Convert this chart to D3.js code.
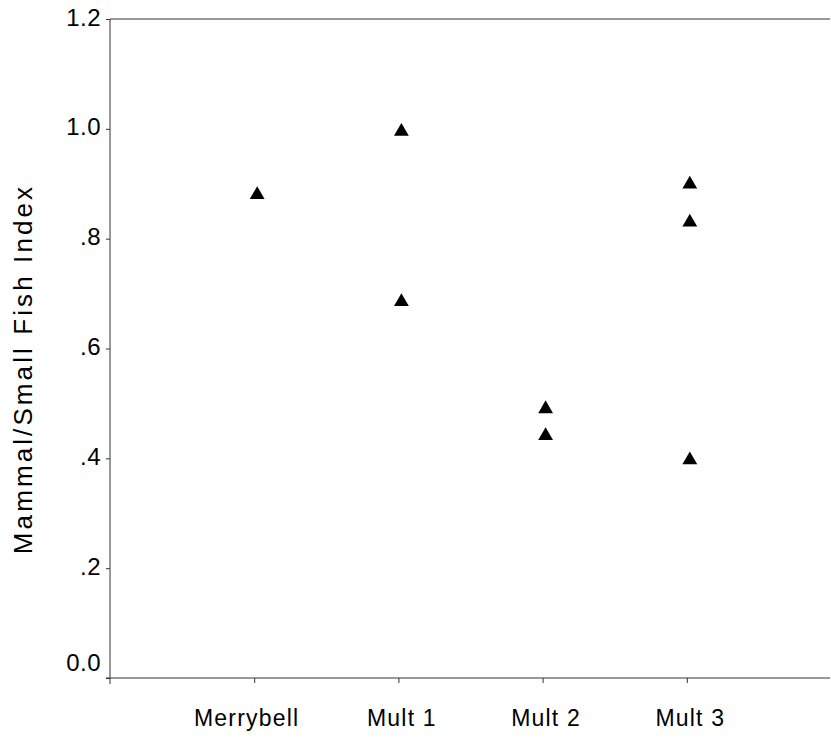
<!DOCTYPE html>
<html>
<head>
<meta charset="utf-8">
<script src="https://cdn.jsdelivr.net/npm/d3@7"></script>
<style>
  body { margin: 0; background: #fff; overflow: hidden; }
  svg { display: block; }
  text { font-family: "Liberation Sans", Arial, Helvetica, sans-serif; fill: #000; }
</style>
</head>
<body>
<svg id="chart" width="831" height="741"></svg>
<script>
var categories = ["Merrybell", "Mult 1", "Mult 2", "Mult 3"];
// one entry per triangle: category and index value
var pointCats = ["Merrybell", "Mult 1", "Mult 1", "Mult 2", "Mult 2", "Mult 3", "Mult 3", "Mult 3"];
var pointVals = [0.880, 0.995, 0.685, 0.490, 0.441, 0.899, 0.830, 0.397];
var yTicks = [0, 0.2, 0.4, 0.6, 0.8, 1.0, 1.2];
var yTickLabels = ["0.0", ".2", ".4", ".6", ".8", "1.0", "1.2"];

var svg = d3.select("#chart");
var plotLeft = 110, plotRight = 831, plotTop = 19, plotBottom = 678;

var x = d3.scalePoint()
  .domain(categories)
  .range([plotLeft, plotRight])
  .padding(1);

var y = d3.scaleLinear()
  .domain([0, 1.2])
  .range([plotBottom, plotTop]);

/* Axes */
var yAxis = d3.axisLeft(y)
  .tickValues(yTicks)
  .tickFormat(function (d, i) { return yTickLabels[i]; })
  .tickSize(4)
  .tickPadding(5);

var gy = svg.append("g")
  .attr("transform", "translate(" + plotLeft + ",0)")
  .call(yAxis);
gy.select(".domain").attr("d", "M0," + (plotBottom + 6) + "V" + plotTop);
gy.selectAll("text")
  .style("font-size", "24px")
  .style("letter-spacing", "0.5px")
  .attr("dy", function (d) { return d === 0 ? "-0.3em" : "0.25em"; });

var xAxis = d3.axisBottom(x).tickSize(5).tickPadding(27);
var gx = svg.append("g")
  .attr("transform", "translate(0," + plotBottom + ")")
  .call(xAxis);
gx.select(".domain").attr("d", "M" + (plotLeft - 4) + ",0H" + (plotRight - 1));
gx.selectAll("text")
  .style("font-size", "23px")
  .style("letter-spacing", "1.2px")
  .attr("dx", function (d, i) { return i === 0 ? -8 : 3; });

svg.selectAll(".domain, .tick line")
  .attr("stroke", "#333")
  .attr("stroke-width", 1);

// top frame line
svg.append("line")
  .attr("x1", plotLeft).attr("x2", plotRight - 1)
  .attr("y1", y(1.2)).attr("y2", y(1.2))
  .attr("stroke", "#333");

/* Points */
svg.selectAll("path.pt")
  .data(pointVals)
  .enter().append("path")
  .attr("class", "pt")
  .attr("d", d3.symbol().type(d3.symbolTriangle).size(95))
  .attr("transform", function (d, i) {
    return "translate(" + (x(pointCats[i]) + 3) + "," + y(d) + ")";
  })
  .attr("fill", "#000");

/* Y title */
svg.append("text")
  .attr("transform", "translate(32,369) rotate(-90)")
  .attr("text-anchor", "middle")
  .style("font-size", "26px")
  .style("letter-spacing", "3.1px")
  .text("Mammal/Small Fish Index");
</script>
</body>
</html>
